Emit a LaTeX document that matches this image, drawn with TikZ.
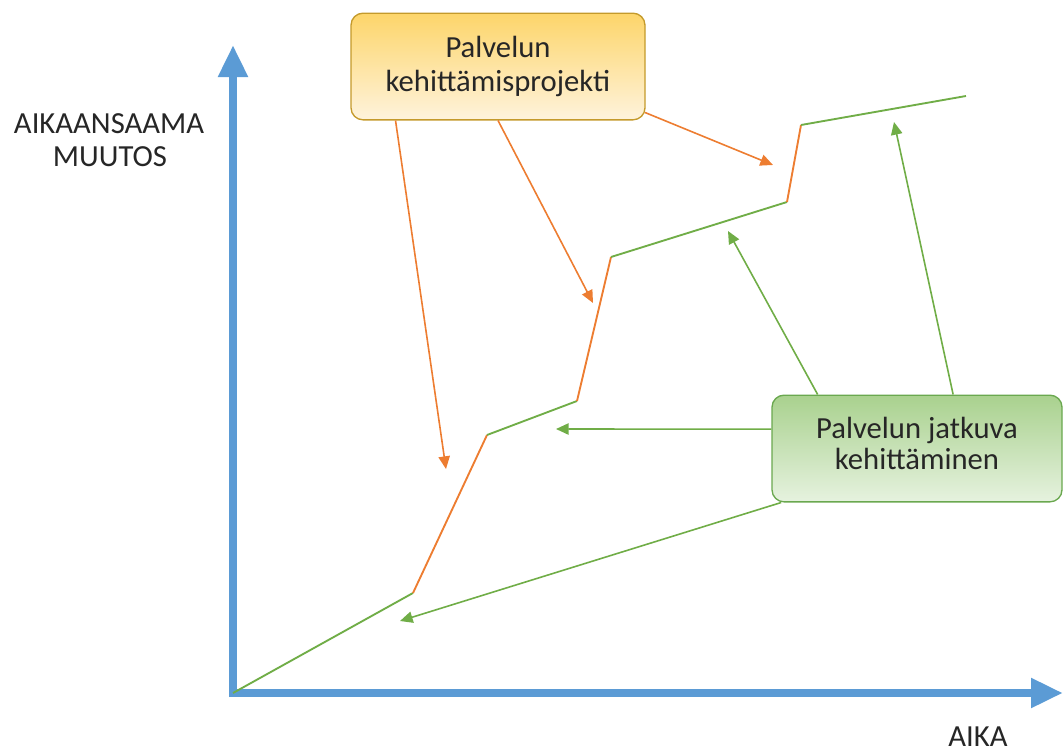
\documentclass[tikz,border=0pt]{standalone}
\usepackage{fontspec}
\setmainfont{Carlito}
\usetikzlibrary{arrows.meta,calc}
\definecolor{axblue}{HTML}{5B9BD5}
\definecolor{orng}{HTML}{ED7D31}
\definecolor{grn}{HTML}{70AD47}
\definecolor{projtop}{HTML}{FDD56A}
\definecolor{projbot}{HTML}{FEF3DC}
\definecolor{projline}{HTML}{C49A2B}
\definecolor{grntop}{HTML}{A9D18E}
\definecolor{grnbot}{HTML}{E6F2DF}
\definecolor{grnline}{HTML}{6AA84F}
\definecolor{txt}{HTML}{262626}
\tikzset{
  axis/.style={draw=axblue, line width=6pt, -{Triangle[length=24pt,width=21pt]}},
  seg/.style={line width=1.4pt, line join=round},
  oarr/.style={draw=orng, line width=1.2pt, -{Triangle[length=9.5pt,width=8.5pt]}},
  garr/.style={draw=grn, line width=1.2pt, -{Triangle[length=9.5pt,width=8.5pt]}},
  lbl/.style={font=\fontsize{23}{25.5}\selectfont, text=txt, align=center, inner sep=0pt},
  projbox/.style={draw=projline, line width=1pt, rounded corners=9pt, top color=projtop, bottom color=projbot, minimum width=220.5pt, minimum height=80pt, font=\fontsize{23}{25.5}\selectfont, text=txt, align=center},
  grnbox/.style={draw=grnline, line width=1pt, rounded corners=9pt, top color=grntop, bottom color=grnbot, minimum width=217.5pt, minimum height=80pt, font=\fontsize{23}{23.5}\selectfont, text=txt, align=center},
}
\begin{document}
\begin{tikzpicture}[x=0.75pt,y=-0.75pt]
\useasboundingbox (0,0) rectangle (1064,753);
% axes
\coordinate (o) at (233,697);
\coordinate (ytip) at (233,45);
\coordinate (ox) at (229,693);
\coordinate (xtip) at (1063,693);
\draw[axis] (o) -- (ytip);
\draw[axis] (ox) -- (xtip);
% curve
\coordinate (p0) at (233,693);
\coordinate (p1) at (413,593);
\coordinate (p2) at (487,435);
\coordinate (p3) at (577,401);
\coordinate (p4) at (611,257);
\coordinate (p5) at (787,202);
\coordinate (p6) at (801,125);
\coordinate (p7) at (966,96);
\draw[seg,grn] (p0) -- (p1);
\draw[seg,orng] (p1) -- (p2);
\draw[seg,grn] (p2) -- (p3);
\draw[seg,orng] (p3) -- (p4);
\draw[seg,grn] (p4) -- (p5);
\draw[seg,orng] (p5) -- (p6);
\draw[seg,grn] (p6) -- (p7);
% boxes
\node[projbox] (proj) at (498,66.5) {Palvelun\\kehittämisprojekti};
\node[grnbox] (jatk) at (917,448.5) {Palvelun jatkuva\\kehittäminen\rule[-8pt]{0pt}{8pt}};
% axis labels
\node[lbl, anchor=base] (ylab1) at (109,133) {AIKAANSAAMA};
\node[lbl, anchor=base] (ylab2) at (110,166) {MUUTOS};
\node[lbl, anchor=base] (xlab) at (978,746) {AIKA};
% orange arrows
\coordinate (t1) at (446,469);
\coordinate (t2) at (593,303);
\coordinate (t3) at (773,165);
\draw[oarr] ($(proj.south west)!0.153!(proj.south east)$) -- (t1);
\draw[oarr] (proj.south) -- (t2);
\draw[oarr] ([xshift=-0.5pt,yshift=6pt]proj.south east) -- (t3);
% green arrows
\coordinate (g1) at (728,231);
\coordinate (g2) at (894,122);
\coordinate (g3) at (556,429);
\coordinate (g4) at (400,621);
\draw[garr] ($(jatk.north west)!0.159!(jatk.north east)$) -- (g1);
\draw[garr] ($(jatk.north west)!0.624!(jatk.north east)$) -- (g2);
\draw[garr] ([yshift=14.5pt]jatk.west) -- (g3);
\draw[garr] ($(jatk.south west)!0.034!(jatk.south east)$) -- (g4);
\end{tikzpicture}
\end{document}
